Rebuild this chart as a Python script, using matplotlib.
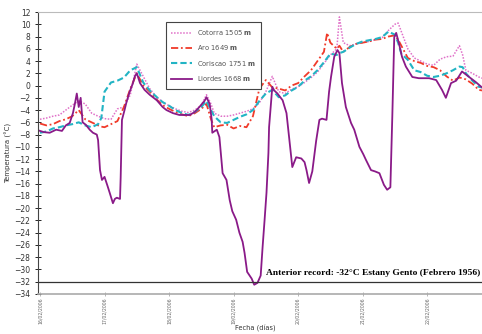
import matplotlib
matplotlib.use("Agg")
import matplotlib.pyplot as plt

# days since 16/02/2006 00:00
tick_dias = [0, 1, 2, 3, 4, 5, 6]
tick_labels = ["16/02/2006", "17/02/2006", "18/02/2006", "19/02/2006",
               "20/02/2006", "21/02/2006", "22/02/2006"]

dias = [0.0, 0.1, 0.2, 0.3, 0.4, 0.5, 0.6, 0.7, 0.8, 0.9, 0.95, 1.0, 1.1, 1.2,
        1.3, 1.4, 1.5, 1.6, 1.7, 1.8, 1.9, 2.0, 2.1, 2.2, 2.3, 2.4, 2.5, 2.58,
        2.65, 2.7, 2.8, 2.9, 3.0, 3.1, 3.2, 3.3, 3.4, 3.5, 3.6, 3.7, 3.8, 3.9,
        4.0, 4.1, 4.2, 4.3, 4.4, 4.45, 4.5, 4.6, 4.64, 4.7, 4.8, 4.9, 5.0, 5.1,
        5.2, 5.3, 5.4, 5.5, 5.55, 5.6, 5.7, 5.8, 5.9, 6.0, 6.1, 6.2, 6.3, 6.4,
        6.5, 6.55, 6.6, 6.7, 6.8, 6.85]

cotorra = [-5.5, -5.3, -5.0, -4.8, -4.0, -3.2, -2.5, -3.0, -4.5, -5.0, -5.2, -5.4,
           -5.5, -3.8, -3.5, -1.5, 3.5, 1.5, -0.5, -1.8, -2.7, -3.3, -3.8, -4.2,
           -4.4, -4.0, -3.2, -1.5, -3.0, -4.5, -5.0, -5.0, -4.8, -4.5, -4.2, -3.8,
           -2.8, -1.0, 1.5, -1.0, -1.3, -0.6, -0.2, 0.5, 1.3, 2.2, 3.6, 4.3, 5.0,
           6.0, 11.2, 7.0, 6.5, 6.8, 7.0, 7.2, 7.5, 7.8, 9.0, 10.0, 10.2, 8.8, 6.0,
           4.5, 4.0, 3.5, 3.3, 4.3, 4.7, 4.8, 6.5, 5.0, 2.5, 2.0, 1.4, 1.2]

aro = [-6.2, -6.5, -6.3, -5.8, -5.5, -5.0, -4.0, -5.5, -6.0, -6.5, -6.7, -6.8,
       -6.3, -5.8, -3.5, -0.5, 2.0, 0.0, -1.0, -2.2, -3.2, -3.8, -4.3, -4.7,
       -5.0, -4.5, -3.8, -3.0, -5.5, -6.8, -6.5, -6.4, -7.0, -6.6, -6.8, -5.0,
       -0.5, 0.9, -0.3, -0.5, -0.8, 0.0, 0.4, 1.5, 2.5, 4.0, 5.5, 8.6, 7.0,
       6.0, 6.5, 5.5, 6.3, 6.8, 7.0, 7.2, 7.5, 7.6, 8.0, 8.2, 7.5, 6.5, 4.5,
       4.0, 3.7, 3.2, 3.0, 2.5, 1.5, 0.8, 1.3, 1.2, 1.0, 0.3, -0.7, -0.8]

coriscao = [-7.7, -7.5, -7.0, -6.8, -6.5, -6.3, -6.0, -6.5, -6.8, -6.3, -5.3, -1.0,
            0.5, 0.8, 1.3, 2.5, 3.0, 0.5, -0.8, -1.8, -2.7, -3.3, -4.0, -4.5,
            -4.8, -4.3, -3.5, -2.5, -4.0, -5.0, -6.0, -6.1, -5.6, -5.1, -4.7,
            -4.0, -2.5, -1.3, -0.7, -1.9, -1.6, -0.8, -0.2, 0.8, 1.5, 2.5, 3.8,
            4.5, 5.2, 5.0, 5.3, 5.5, 6.2, 6.8, 7.2, 7.4, 7.6, 7.9, 8.8, 8.3, 7.0,
            5.2, 4.2, 2.5, 2.2, 1.6, 1.4, 1.6, 2.0, 2.5, 3.1, 3.0, 2.0, 0.8, -0.2,
            -0.3]

dias_liordes = [-0.03, 0.06, 0.15, 0.25, 0.34, 0.40, 0.46, 0.51, 0.54, 0.57, 0.60,
                0.63, 0.66, 0.71, 0.77, 0.82, 0.88, 0.90, 0.93, 0.96, 1.00, 1.05,
                1.08, 1.13, 1.16, 1.19, 1.24, 1.25, 1.27, 1.31, 1.34, 1.39, 1.44,
                1.47, 1.50, 1.55, 1.62, 1.70, 1.81, 1.90, 1.96, 2.06, 2.16, 2.32,
                2.40, 2.47, 2.55, 2.58, 2.63, 2.66, 2.67, 2.74, 2.78, 2.83, 2.89,
                2.94, 2.98, 3.04, 3.09, 3.14, 3.17, 3.21, 3.28, 3.32, 3.37, 3.42,
                3.45, 3.48, 3.51, 3.54, 3.55, 3.60, 3.63, 3.68, 3.76, 3.82, 3.86,
                3.91, 3.97, 4.05, 4.10, 4.13, 4.17, 4.22, 4.28, 4.33, 4.37, 4.44,
                4.48, 4.51, 4.56, 4.61, 4.64, 4.68, 4.74, 4.82, 4.87, 4.95, 5.01,
                5.05, 5.13, 5.19, 5.26, 5.33, 5.38, 5.43, 5.46, 5.49, 5.52, 5.56,
                5.61, 5.67, 5.77, 5.87, 6.03, 6.14, 6.23, 6.29, 6.37, 6.45, 6.54,
                6.65, 6.75, 6.85]
liordes = [-7.3, -7.6, -7.7, -7.2, -7.4, -6.5, -6.1, -4.5, -3.0, -1.3, -3.5,
           -2.0, -6.0, -6.4, -7.2, -7.7, -8.0, -8.9, -13.8, -15.4, -14.9, -16.5,
           -17.5, -19.2, -18.5, -18.3, -18.5, -15.0, -5.6, -4.0, -2.7, -1.0, 0.4,
           1.5, 2.0, 0.4, -0.7, -1.5, -2.4, -3.5, -4.0, -4.5, -4.8, -4.8, -4.3,
           -3.5, -2.5, -1.9, -3.0, -5.5, -7.7, -7.2, -8.4, -14.3, -15.4, -18.7,
           -20.5, -21.9, -24.0, -25.5, -27.3, -30.4, -31.5, -32.5, -32.2, -31.0,
           -26.3, -22.0, -17.5, -11.0, -6.8, -0.2, -0.8, -1.3, -2.4, -4.5, -8.4,
           -13.3, -11.7, -11.9, -12.5, -13.8, -15.9, -14.0, -9.0, -5.6, -5.4,
           -5.6, -1.0, 1.4, 4.7, 5.8, 5.3, 0.4, -3.5, -6.1, -7.2, -10.0, -11.2,
           -12.1, -13.8, -14.0, -14.3, -16.2, -17.0, -16.6, -5.0, 7.9, 8.6, 7.0,
           4.7, 3.1, 1.4, 1.2, 1.2, 0.9, -0.7, -2.0, 0.4, 0.8, 2.3, 1.4, 0.6, -0.3]

fig = plt.figure(figsize=(4.82, 3.34), dpi=100)
ax = fig.add_axes([0.079, 0.12, 0.921, 0.844])

ax.plot(dias, cotorra, color="#e070c8", lw=1.1, ls=(0, (1, 1)), label="Cotorra 1505 $\\mathbf{m}$")
ax.plot(dias, aro, color="#f03a2a", lw=1.3, ls=(0, (4, 1.5, 1, 1.5)), label="Aro 1649 $\\mathbf{m}$")
ax.plot(dias, coriscao, color="#22b4c4", lw=1.5, ls=(0, (3, 1.5)), label="Coriscao 1751 $\\mathbf{m}$")
ax.plot(dias_liordes, liordes, color="#8a1a88", lw=1.3, label="Liordes 1668 $\\mathbf{m}$")

ax.axhline(-32, color="#333333", lw=0.9)
ax.text(6.82, -31.2, "Anterior record: -32°C Estany Gento (Febrero 1956)",
        family="Liberation Serif", weight="bold", fontsize=6.8, ha="right", va="bottom")

ax.set_xlim(-0.03, 6.85)
ax.set_ylim(-34, 12)
ax.set_yticks(range(-34, 13, 2))
ax.set_xticks(tick_dias)
ax.set_xticklabels(tick_labels, rotation=90, fontsize=3.3, color="#666666")
ax.tick_params(axis="y", labelsize=5.5, labelcolor="#333333", direction="inout", length=4, width=0.6)
ax.tick_params(axis="x", direction="inout", length=3, width=0.5, color="#999999", pad=1)

ax.spines["top"].set_color("#bbbbbb")
ax.spines["right"].set_visible(False)
ax.spines["bottom"].set_color("#aaaaaa")
ax.spines["bottom"].set_linewidth(1.2)
ax.spines["left"].set_color("#444444")
ax.spines["left"].set_linewidth(0.8)

ax.set_ylabel("Temperatura (°C)", fontsize=5, color="#333333")
ax.yaxis.set_label_coords(-0.058, 0.5)
ax.set_xlabel("Fecha (días)", fontsize=4.8, color="#333333")
ax.xaxis.set_label_coords(0.49, -0.112)

leg = ax.legend(loc="upper left", bbox_to_anchor=(0.28, 0.975), fontsize=4.9,
                fancybox=False, edgecolor="#444444", handlelength=3.0,
                labelspacing=0.95, borderpad=0.8, framealpha=1)
leg.get_frame().set_linewidth(0.8)
for t in leg.get_texts():
    t.set_color("#555555")

fig.savefig("out.png", dpi=100)
